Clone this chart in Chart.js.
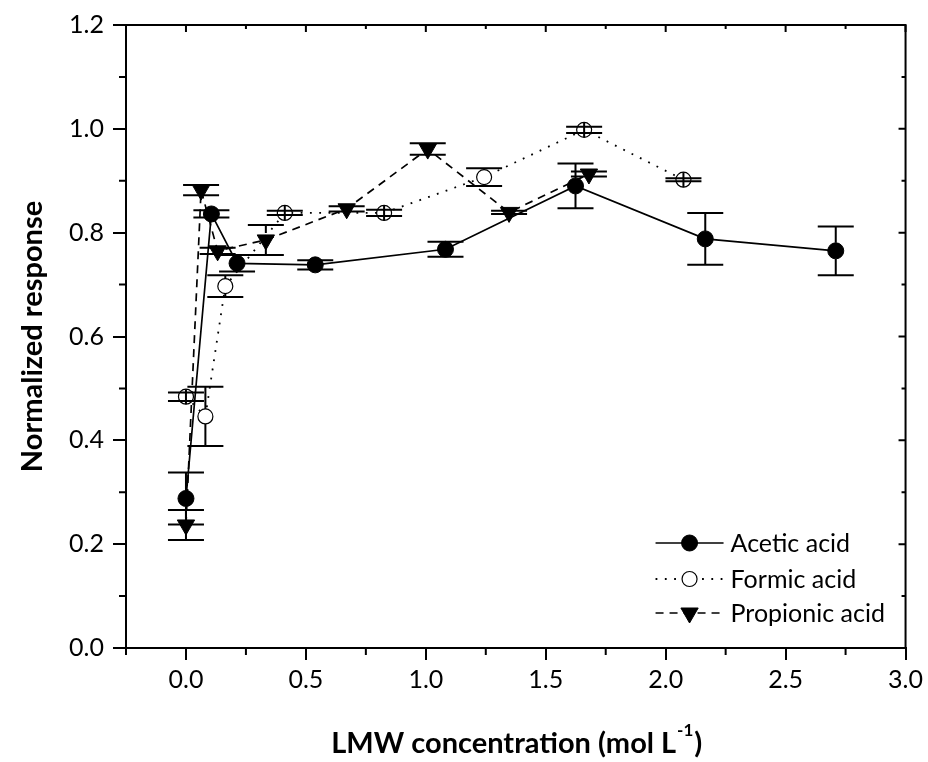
<!DOCTYPE html>
<html>
<head>
<meta charset="utf-8">
<script src="https://cdn.jsdelivr.net/npm/chart.js@4.4.1/dist/chart.umd.min.js"></script>
<style>
  html, body { margin: 0; padding: 0; background: #fff; }
  canvas { display: block; }
</style>
</head>
<body>
<canvas id="chart" width="928" height="762"></canvas>
<script>
// values
const aceticX = [0, 0.106, 0.213, 0.539, 1.082, 1.624, 2.165, 2.709];
const aceticY = [0.288, 0.836, 0.741, 0.738, 0.768, 0.890, 0.788, 0.765];
const aceticErr = [0.05, 0.007, 0.016, 0.009, 0.0145, 0.043, 0.05, 0.047];

const formicX = [0, 0.081, 0.164, 0.412, 0.826, 1.243, 1.66, 2.074];
const formicY = [0.484, 0.446, 0.697, 0.838, 0.838, 0.907, 0.998, 0.902];
const formicErr = [0.008, 0.057, 0.021, 0.004, 0.006, 0.017, 0.006, 0.003];

const propionicX = [0, 0.063, 0.132, 0.333, 0.67, 1.008, 1.347, 1.68];
const propionicY = [0.237, 0.882, 0.765, 0.786, 0.846, 0.961, 0.839, 0.913];
const propionicErr = [0.029, 0.01, 0.006, 0.029, 0.005, 0.011, 0.003, 0.005];

const xTicks = [0, 0.5, 1.0, 1.5, 2.0, 2.5, 3.0];
const yTicks = [0, 0.2, 0.4, 0.6, 0.8, 1.0, 1.2];

const FONT = "Lato, 'Open Sans', sans-serif";

const toPoints = (xs, ys) => xs.map((x, i) => ({ x: x, y: ys[i] }));

const datasets = [
  {
    label: "Acetic acid",
    data: toPoints(aceticX, aceticY),
    err: aceticErr,
    showLine: true,
    borderColor: "#000",
    borderWidth: 1.7,
    pointStyle: "circle",
    pointRadius: 8,
    pointBackgroundColor: "#000",
    pointBorderColor: "#000",
    pointBorderWidth: 1,
    markR: 8,
  },
  {
    label: "Formic acid",
    data: toPoints(formicX, formicY),
    err: formicErr,
    showLine: true,
    borderColor: "#000",
    borderWidth: 1.8,
    borderDash: [1.8, 7.5],
    pointStyle: "circle",
    pointRadius: 7.5,
    pointBackgroundColor: "#fff",
    pointBorderColor: "#000",
    pointBorderWidth: 1.2,
    markR: 7.5,
    hollow: true,
  },
  {
    label: "Propionic acid",
    data: toPoints(propionicX, propionicY),
    err: propionicErr,
    showLine: true,
    borderColor: "#000",
    borderWidth: 1.7,
    borderDash: [8, 6],
    pointStyle: "triangle",
    pointRotation: 180,
    pointRadius: 10,
    pointBackgroundColor: "#000",
    pointBorderColor: "#000",
    pointBorderWidth: 1,
    markR: 7,
  },
];

// error bars, drawn through the scales
const errorBars = {
  id: "errorBars",
  afterDatasetsDraw(chart) {
    const ctx = chart.ctx;
    const xs = chart.scales.x, ys = chart.scales.y;
    const capHalf = 18;
    ctx.save();
    ctx.strokeStyle = "#000";
    ctx.lineWidth = 2;
    ctx.setLineDash([]);
    chart.data.datasets.forEach((ds) => {
      const r = ds.markR;
      ds.data.forEach((p, i) => {
        const e = ds.err[i];
        const px = xs.getPixelForValue(p.x);
        const py = ys.getPixelForValue(p.y);
        const top = ys.getPixelForValue(p.y + e);
        const bot = ys.getPixelForValue(p.y - e);
        ctx.beginPath();
        if (py - top > r) {
          ctx.moveTo(px, top); ctx.lineTo(px, py - r);
          ctx.moveTo(px, py + r); ctx.lineTo(px, bot);
        } else if (ds.hollow) {
          ctx.moveTo(px, py - r); ctx.lineTo(px, py + r);
        }
        ctx.moveTo(px - capHalf, top); ctx.lineTo(px + capHalf, top);
        ctx.moveTo(px - capHalf, bot); ctx.lineTo(px + capHalf, bot);
        ctx.stroke();
      });
    });
    ctx.restore();
  },
};

// box, minor ticks, titles and legend
const frame = {
  id: "frame",
  afterDraw(chart) {
    const ctx = chart.ctx;
    const a = chart.chartArea;
    const xs = chart.scales.x, ys = chart.scales.y;
    ctx.save();
    ctx.strokeStyle = "#000";
    ctx.fillStyle = "#000";
    ctx.lineWidth = 2;
    ctx.beginPath();
    ctx.moveTo(a.left, a.top); ctx.lineTo(a.right, a.top); ctx.lineTo(a.right, a.bottom);
    ctx.stroke();

    ctx.beginPath();
    // x minor ticks (outside bottom), top ticks inside
    for (let v = -0.25; v <= 3.001; v += 0.25) {
      const px = xs.getPixelForValue(v);
      const major = Math.abs(v * 2 - Math.round(v * 2)) < 1e-6;
      if (!major) { ctx.moveTo(px, a.bottom); ctx.lineTo(px, a.bottom + 7); }
      ctx.moveTo(px, a.top); ctx.lineTo(px, a.top + (major ? 7 : 4));
    }
    for (let k = 0; k <= 12; k++) {
      const v = k / 10;
      const py = ys.getPixelForValue(v);
      const major = k % 2 === 0;
      if (!major) { ctx.moveTo(a.left, py); ctx.lineTo(a.left - 7, py); }
      ctx.moveTo(a.right, py); ctx.lineTo(a.right - (major ? 7 : 4), py);
    }
    ctx.stroke();

    // axis titles
    ctx.textBaseline = "alphabetic";
    const big = "bold 29px " + FONT;
    const small = "bold 17px " + FONT;
    const main = "LMW concentration (mol L";
    const sup = "-1";
    const close = ")";
    ctx.font = big;
    const w1 = ctx.measureText(main).width;
    const w3 = ctx.measureText(close).width;
    ctx.font = small;
    const w2 = ctx.measureText(sup).width;
    const cx = (a.left + a.right) / 2;
    const tx = cx - (w1 + w2 + w3) / 2;
    const by = 753;
    ctx.textAlign = "left";
    ctx.font = big;
    ctx.fillText(main, tx, by);
    ctx.font = small;
    ctx.fillText(sup, tx + w1 + 1, by - 17);
    ctx.font = big;
    ctx.fillText(close, tx + w1 + w2 + 2, by);

    ctx.save();
    ctx.translate(42, (a.top + a.bottom) / 2);
    ctx.rotate(-Math.PI / 2);
    ctx.textAlign = "center";
    ctx.font = big;
    ctx.fillText("Normalized response", 0, 0);
    ctx.restore();

    // legend
    const rows = [a.bottom - 105, a.bottom - 69, a.bottom - 35];
    const x0 = a.right - 250, x1 = a.right - 182, mx = a.right - 216;
    chart.data.datasets.forEach((ds, i) => {
      const y = rows[i];
      ctx.save();
      ctx.lineWidth = ds.borderWidth;
      ctx.setLineDash(ds.borderDash || []);
      ctx.beginPath();
      ctx.moveTo(x0, y); ctx.lineTo(x1, y);
      ctx.stroke();
      ctx.restore();
      ctx.save();
      ctx.fillStyle = ds.pointBackgroundColor;
      ctx.strokeStyle = "#000";
      ctx.lineWidth = ds.pointBorderWidth;
      ctx.beginPath();
      if (ds.pointStyle === "circle") {
        ctx.arc(mx, y, ds.pointRadius, 0, Math.PI * 2);
      } else {
        const r = ds.pointRadius;
        ctx.moveTo(mx - r * 0.866, y - r * 0.5);
        ctx.lineTo(mx + r * 0.866, y - r * 0.5);
        ctx.lineTo(mx, y + r);
        ctx.closePath();
      }
      ctx.fill();
      ctx.stroke();
      ctx.restore();
      ctx.font = "25px " + FONT;
      ctx.textAlign = "left";
      ctx.textBaseline = "middle";
      ctx.fillStyle = "#000";
      ctx.fillText(ds.label, a.right - 175, y + 1);
    });
    ctx.restore();
  },
};

new Chart(document.getElementById("chart"), {
  type: "scatter",
  data: { datasets: datasets },
  options: {
    responsive: false,
    animation: false,
    layout: { padding: { top: 25, right: 19, bottom: 0, left: 0 } },
    plugins: { legend: { display: false }, tooltip: { enabled: false } },
    scales: {
      x: {
        type: "linear",
        min: -0.25,
        max: 3.0,
        afterBuildTicks: (s) => { s.ticks = xTicks.map((v) => ({ value: v })); },
        afterFit: (s) => { s.height = 114; },
        ticks: {
          color: "#000",
          font: { family: FONT, size: 25 },
          padding: 5,
          maxRotation: 0,
          callback: (v) => Number(v).toFixed(1),
        },
        grid: { drawOnChartArea: false, drawTicks: true, tickLength: 12, color: "#000", lineWidth: 2 },
        border: { display: true, color: "#000", width: 2 },
      },
      y: {
        type: "linear",
        min: 0,
        max: 1.2,
        afterBuildTicks: (s) => { s.ticks = yTicks.map((v) => ({ value: v })); },
        afterFit: (s) => { s.width = 126; },
        ticks: {
          color: "#000",
          font: { family: FONT, size: 25 },
          padding: 9,
          callback: (v) => Number(v).toFixed(1),
        },
        grid: { drawOnChartArea: false, drawTicks: true, tickLength: 13, color: "#000", lineWidth: 2 },
        border: { display: true, color: "#000", width: 2 },
      },
    },
  },
  plugins: [errorBars, frame],
});
</script>
</body>
</html>
